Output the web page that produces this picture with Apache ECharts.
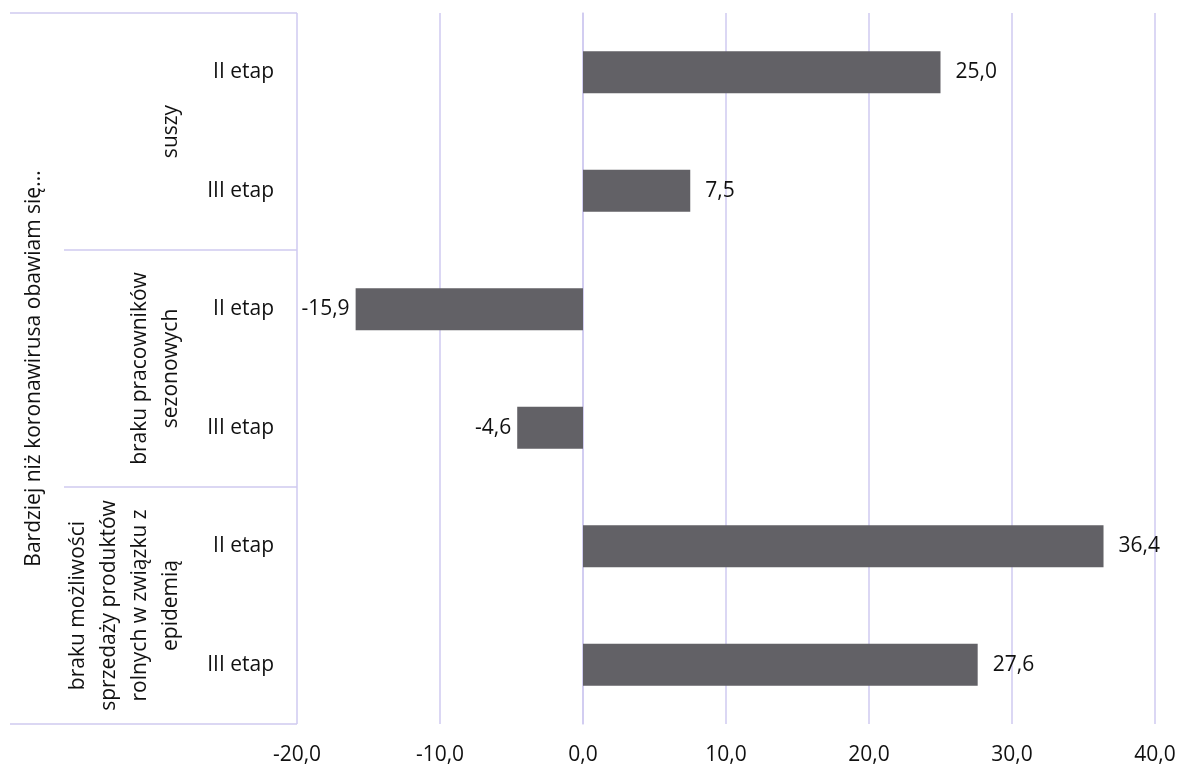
<!DOCTYPE html>
<html>
<head>
<meta charset="utf-8">
<script src="https://cdn.jsdelivr.net/npm/echarts@6/dist/echarts.min.js"></script>
<style>
html,body{margin:0;padding:0;background:#fff;}
#chart{width:1180px;height:764px;}
</style>
</head>
<body>
<div id="chart"></div>
<script>
var stageLabels = ['II etap', 'III etap', 'II etap', 'III etap', 'II etap', 'III etap'];
var groupLabels = ['suszy', 'braku pracowników\nsezonowych', 'braku możliwości\nsprzedaży produktów\nrolnych w związku z\nepidemią'];
var outerLabels = ['Bardziej niż koronawirusa obawiam się...'];
var values = [25.0, 7.5, -15.9, -4.6, 36.4, 27.6];
var xTicks = { min: -20, max: 40, interval: 10 };

var FONT = '"Open Sans", sans-serif';
var FS = 21;
var LINE = '#cfcaf0';
var TXT = '#111';
var fmt = function (v) { return v.toFixed(1).replace('.', ','); };

var chart = echarts.init(document.getElementById('chart'));
chart.setOption({
  animation: false,
  backgroundColor: '#fff',
  grid: { left: 297, right: 25, top: 13, bottom: 40, containLabel: false, outerBoundsMode: 'none' },
  xAxis: {
    type: 'value', min: xTicks.min, max: xTicks.max, interval: xTicks.interval,
    axisLine: { show: false }, axisTick: { show: false },
    splitLine: { show: true, lineStyle: { color: LINE, width: 1.5 } },
    axisLabel: { formatter: fmt, color: TXT, fontFamily: FONT, fontSize: FS, margin: 21 }
  },
  yAxis: [
    {
      type: 'category', data: stageLabels, inverse: true, position: 'left',
      axisLine: { show: true, lineStyle: { color: LINE, width: 1.5 } },
      axisTick: { show: false },
      axisLabel: { interval: 0, color: TXT, fontFamily: FONT, fontSize: FS, margin: 23 }
    },
    {
      type: 'category', data: groupLabels, inverse: true, position: 'left',
      axisLine: { show: false },
      axisTick: { show: true, interval: 0, length: 233, lineStyle: { color: LINE, width: 1.5 } },
      axisLabel: { interval: 0, rotate: 90, align: 'center', verticalAlign: 'bottom',
        color: TXT, fontFamily: FONT, fontSize: FS, lineHeight: 31, margin: 110 }
    },
    {
      type: 'category', data: outerLabels, inverse: true, position: 'left',
      axisLine: { show: false },
      axisTick: { show: true, interval: 0, length: 287, lineStyle: { color: LINE, width: 1.5 } },
      axisLabel: { interval: 0, rotate: 90, align: 'center', verticalAlign: 'middle',
        color: TXT, fontFamily: FONT, fontSize: FS, margin: 263 }
    }
  ],
  series: [{
    type: 'bar', yAxisIndex: 0, barWidth: 42,
    itemStyle: { color: '#626166' },
    data: values.map(function (v) {
      return { value: v, label: { position: v < 0 ? 'left' : 'right', distance: v < 0 ? 6 : 15 } };
    }),
    label: { show: true, formatter: function (p) { return fmt(p.value); },
      color: TXT, fontFamily: FONT, fontSize: FS }
  }]
});
</script>
</body>
</html>
